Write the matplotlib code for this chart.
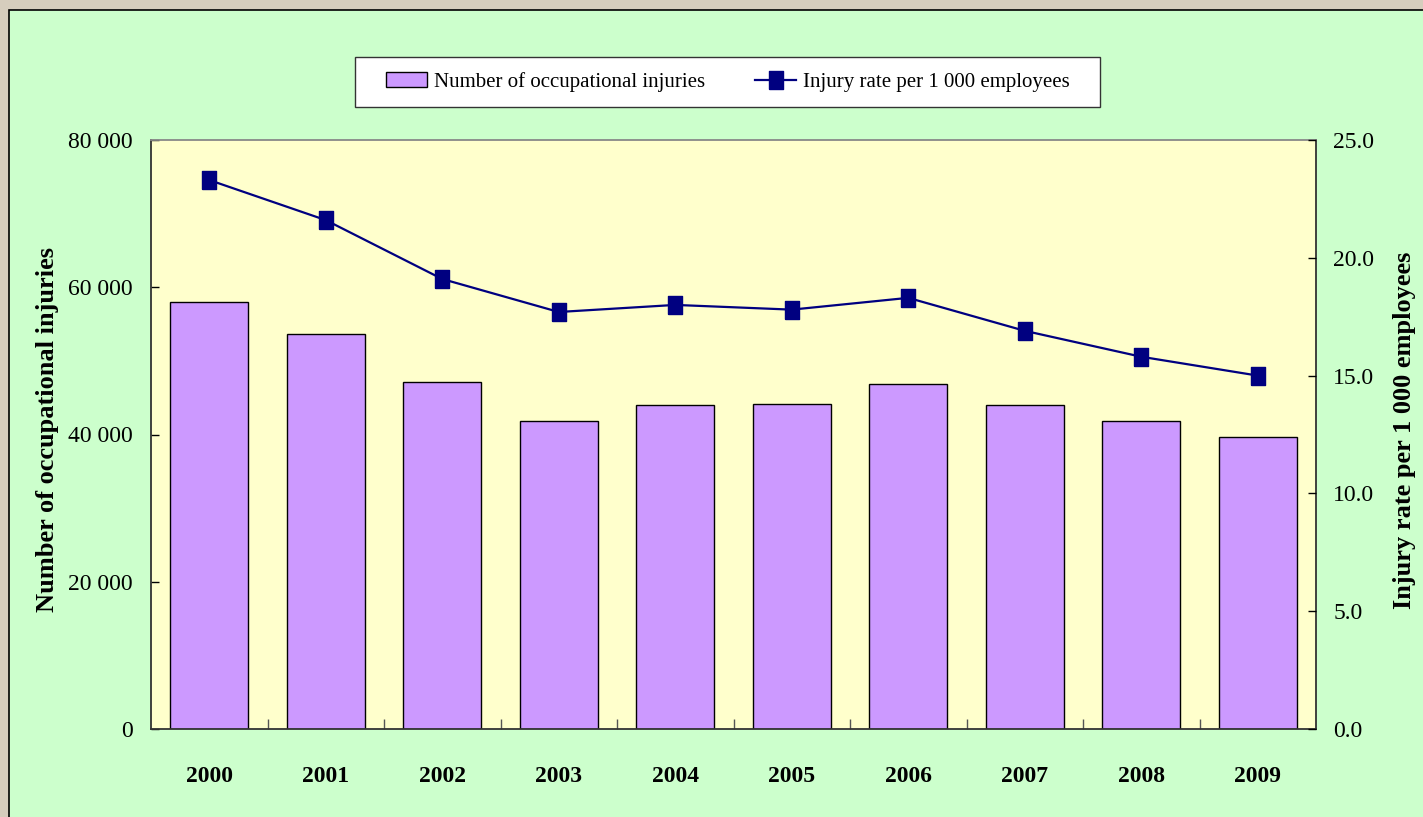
import matplotlib
matplotlib.use('Agg')
import matplotlib.pyplot as plt
from matplotlib.patches import Rectangle
import numpy as np

# ---- data ----
years = ['2000', '2001', '2002', '2003', '2004', '2005', '2006', '2007', '2008', '2009']
injuries = [58000, 53600, 47100, 41900, 44000, 44200, 46800, 44000, 41900, 39600]
rate = [23.3, 21.6, 19.1, 17.7, 18.0, 17.8, 18.3, 16.9, 15.8, 15.0]
left_ticks = [0, 20000, 40000, 60000, 80000]
left_tick_labels = ['0', '20 000', '40 000', '60 000', '80 000']
right_ticks = [0, 5, 10, 15, 20, 25]
right_tick_labels = ['0.0', '5.0', '10.0', '15.0', '20.0', '25.0']
bar_label = 'Number of occupational injuries'
line_label = 'Injury rate per 1 000 employees'

plt.rcParams['font.family'] = ['Liberation Serif', 'DejaVu Serif']

W, H = 1423, 817
fig = plt.figure(figsize=(W / 100, H / 100), dpi=100)
fig.patch.set_facecolor('#D6CDBD')
fig.patches.append(Rectangle((9 / W, -0.01), 1.0, 1 - 10 / H + 0.01,
                             transform=fig.transFigure, facecolor='#CCFFCC',
                             edgecolor='black', linewidth=1.2, zorder=-10))
# legend box
fig.patches.append(Rectangle((355 / W, 1 - 107 / H), (1100 - 355) / W, 50 / H,
                             transform=fig.transFigure, facecolor='white',
                             edgecolor='#333333', linewidth=1.0, zorder=-5))

ax = fig.add_axes([151 / W, 1 - 729 / H, (1316 - 151) / W, (729 - 140) / H])
ax.set_facecolor('#FFFFCC')
x = np.arange(len(years))
ax.bar(x, injuries, width=0.67, color='#CC99FF', edgecolor='black',
       linewidth=1.0, label=bar_label, zorder=2)
ax.set_xlim(-0.5, len(years) - 0.5)
ax.set_ylim(0, 80000)
ax.set_yticks(left_ticks)
ax.set_yticklabels(left_tick_labels)
ax.tick_params(axis='y', direction='in', length=6, width=1, pad=13, labelsize=17)
ax.set_xticks(x)
ax.set_xticklabels(years, fontweight='bold')
ax.tick_params(axis='x', which='major', length=0, pad=27, labelsize=17)
ax.set_xticks(np.arange(0.5, len(years) - 1, 1), minor=True)
ax.tick_params(axis='x', which='minor', direction='in', length=7, width=1, color='#555555')
for side in ['left', 'right', 'bottom']:
    ax.spines[side].set_color('#333333')
    ax.spines[side].set_linewidth(1.3)
ax.spines['top'].set_color('#888888')
ax.spines['top'].set_linewidth(1.3)

ax2 = ax.twinx()
marker = [(-0.36, -0.5), (0.36, -0.5), (0.36, 0.5), (-0.36, 0.5), (-0.36, -0.5)]
ax2.plot(x, rate, color='#000080', linewidth=1.6, marker=marker, markersize=13.5,
         markerfacecolor='#000080', markeredgecolor='#000080', label=line_label, zorder=3)
ax2.set_ylim(0, 25)
ax2.set_yticks(right_ticks)
ax2.set_yticklabels(right_tick_labels)
ax2.tick_params(axis='y', direction='in', length=6, width=1, pad=12.5, labelsize=17)
for side in ['left', 'right', 'bottom', 'top']:
    ax2.spines[side].set_visible(False)

fig.text(48 / W, 1 - 430 / H, bar_label, rotation=90, ha='center', va='center',
         fontsize=19, fontweight='bold')
fig.text(1405 / W, 1 - 430 / H, line_label, rotation=90, ha='center', va='center',
         fontsize=19, fontweight='bold')

h1, l1 = ax.get_legend_handles_labels()
h2, l2 = ax2.get_legend_handles_labels()
leg = fig.legend(h1 + h2, l1 + l2, loc='center', bbox_to_anchor=(727.5 / W, 1 - 82 / H),
                 ncol=2, fontsize=15, frameon=False,
                 borderpad=0.6, handlelength=2.0, handletextpad=0.3,
                 columnspacing=2.4, borderaxespad=0)

fig.savefig('out.png', dpi=100, facecolor=fig.get_facecolor())
